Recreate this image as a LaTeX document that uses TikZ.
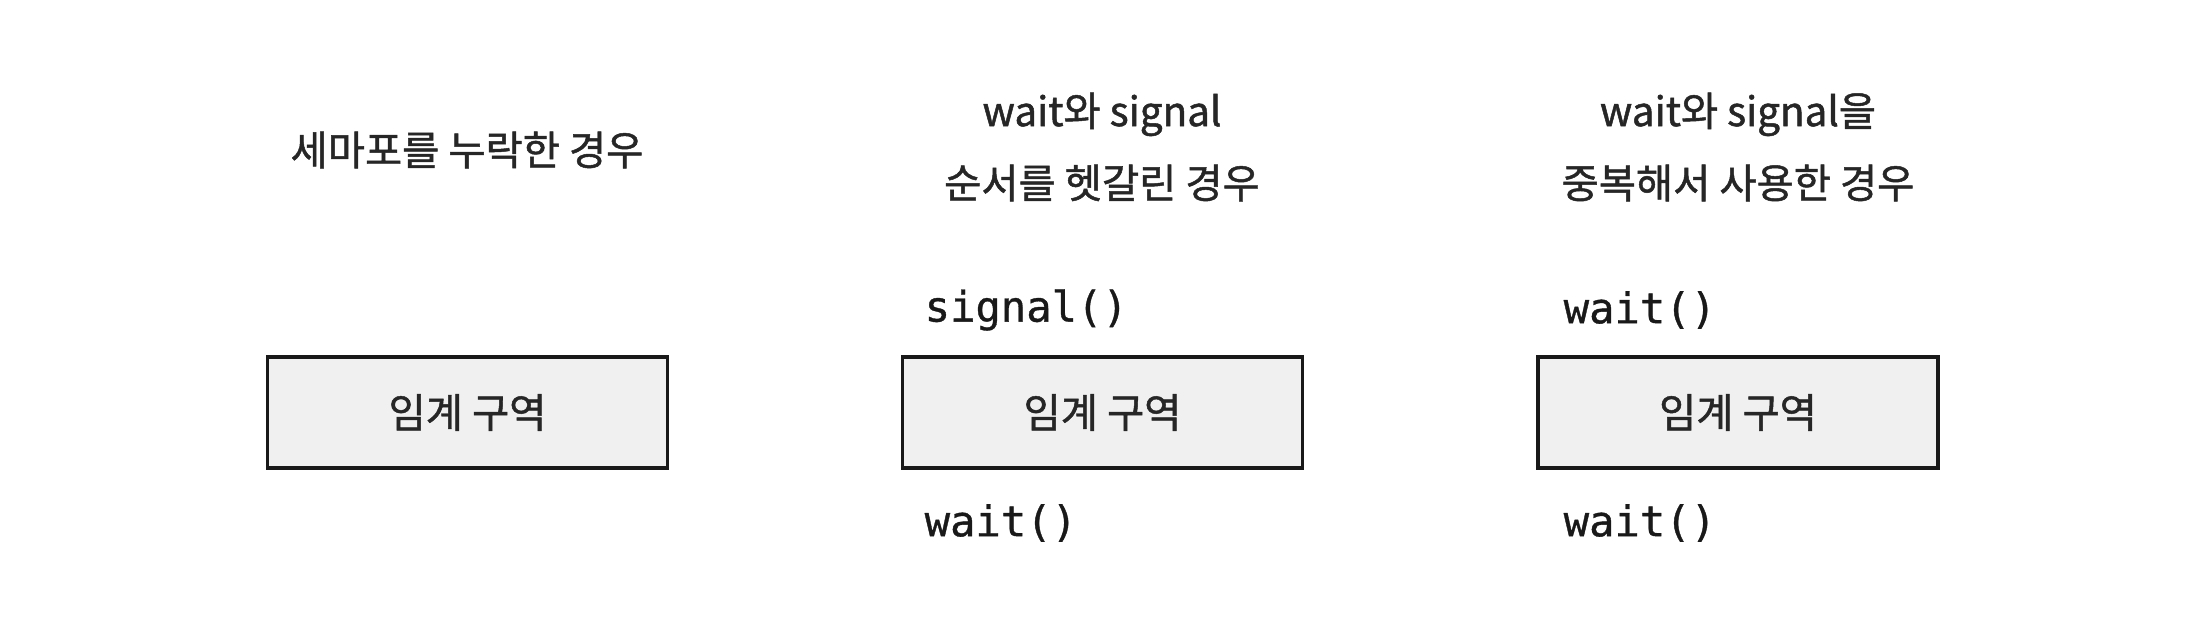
\documentclass[tikz,border=0pt]{standalone}
\usepackage{fontspec}
\newfontfamily\kr[FakeBold=1.2]{Noto Sans CJK KR}
\newfontfamily\code[FakeBold=0.8]{DejaVu Sans Mono}
\usepackage{tikz}

\begin{document}
\begin{tikzpicture}[
  title/.style = {font=\kr\fontsize{11.5}{20.5}\selectfont, text=black!85, align=center},
  area/.style  = {draw=black!90, line width=1pt, fill=black!6, minimum width=4cm, minimum height=1.11cm,
                  font=\kr\fontsize{11.5}{14}\selectfont, text=black!85},
  call/.style  = {font=\code\fontsize{12}{14}\selectfont, text=black!90, anchor=west, inner sep=0pt}]
\useasboundingbox (0,0) rectangle (22.02,6.30);

%titles
\node[title] (title1) at (4.67,4.80) {세마포를 누락한 경우};
\node[title] (title2) at (11.02,4.83) {wait와 signal\\순서를 헷갈린 경우};
\node[title] (title3) at (17.38,4.83) {wait와 signal을\\중복해서 사용한 경우};

%critical sections
\foreach \x/\n in {4.675/one, 11.025/two, 17.38/three}
	\node[area] (area\n) at (\x,2.175) {임계 구역};

%calls
\node[call] (signaltwo) at (9.24,3.20) {signal()};
\node[call] (waittwo) at (9.24,1.07) {wait()};
\node[call] (waitthreea) at (15.63,3.20) {wait()};
\node[call] (waitthreeb) at (15.63,1.07) {wait()};
\end{tikzpicture}
\end{document}
